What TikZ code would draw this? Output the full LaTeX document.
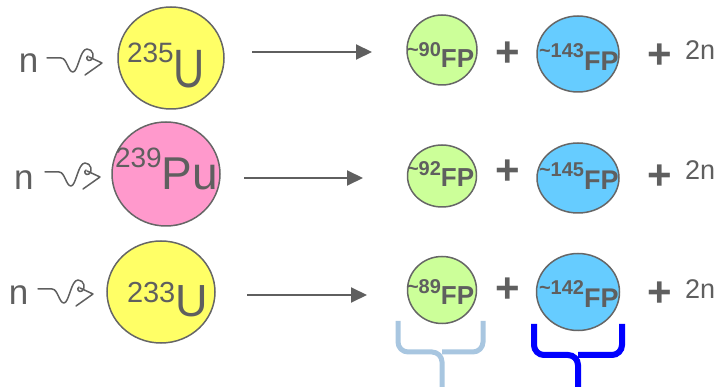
\documentclass[tikz,border=0pt]{standalone}
\usepackage{fontspec}
\setmainfont{Liberation Sans}
\usetikzlibrary{shapes.geometric,arrows.meta}

\definecolor{ink}{HTML}{5F5F5F}
\definecolor{edge}{HTML}{666666}
\definecolor{uyellow}{HTML}{FFFF66}
\definecolor{pupink}{HTML}{FF99CC}
\definecolor{fpgreen}{HTML}{CCFF99}
\definecolor{fpblue}{HTML}{66CCFF}
\definecolor{bracelight}{HTML}{A8C6E0}
\definecolor{bracedark}{HTML}{0000FF}

\newcommand\fsz[1]{\fontsize{#1}{#1}\selectfont}
% mass number, symbol, mass-number size, symbol size, raise of the mass number
\newcommand\nuclide[5]{\raisebox{#5pt}{\fsz{#3}#1}\fsz{#4}#2}
% fission fragment label: mass number, its size, FP size, raise
\newcommand\fragment[4]{\bfseries\raisebox{#4pt}{\fsz{#2}\textasciitilde#1}\fsz{#3}FP}

\tikzset{
  nucleus/.style={ellipse, draw=edge, line width=1.5pt, inner sep=0pt},
  label/.style={inner sep=0pt, outer sep=0pt, text=ink, anchor=base west},
  plus/.style={inner sep=0pt, text=ink, font=\fsz{42}\bfseries},
  reaction/.style={draw=ink, line width=2pt, -{Triangle[length=16pt,width=15pt]}},
  neutronpath/.style={draw=ink, line width=1.5pt, line cap=round, line join=round},
  bracket/.style={line width=#1, rounded corners=10pt, line cap=butt},
}

% wavy incoming neutron, drawn from its left end
\newcommand\neutronwave[1]{%
  \draw[neutronpath, shift={#1}]
    (0,0) -- (14,0) .. controls (20,0) and (21,14) .. (26,14)
    .. controls (31,14) and (33,-9) .. (40,-9)
    .. controls (46,-9) and (48,-1) .. (44,2)
    .. controls (41,4) and (38,0) .. (41,-2);
  \draw[neutronpath, shift={#1}] (42,-1) -- (55,5) -- (38,17);
}

\begin{document}
\begin{tikzpicture}[x=1pt, y=-1pt]
\useasboundingbox (0,0) rectangle (726,387);

% ---- row 1: U-235 ----
\node[label, font=\fsz{35}] (n1) at (19,73) {n};
\neutronwave{(47,58)}
\node[nucleus, fill=uyellow, minimum width=106, minimum height=102] (u235) at (171,58) {};
\node[label] (u235t) at (127,88) {\raisebox{25pt}{\fsz{28}235}\scalebox{0.8}[1]{\fsz{54}U}};
\coordinate (a1s) at (252,52);
\coordinate (a1e) at (372,52);
\draw[reaction] (a1s) -- (a1e);
\node[nucleus, fill=fpgreen, minimum width=70, minimum height=70] (g1) at (442,50) {};
\node[label] (g1t) at (407,68) {\fragment{90}{20}{26}{11}};
\node[plus] (p1a) at (508,54) {+};
\node[nucleus, fill=fpblue, minimum width=82, minimum height=76] (b1) at (578,54) {};
\node[label] (b1t) at (539,71) {\fragment{143}{20}{27}{13}};
\node[plus] (p1b) at (660,56) {+};
\node[label, font=\fsz{27}] (nn1) at (685,60) {2n};

% ---- row 2: Pu-239 ----
\node[label, font=\fsz{35}] (n2) at (14,190) {n};
\neutronwave{(45,172)}
\node[nucleus, fill=pupink, minimum width=108, minimum height=104] (pu239) at (166,174) {};
\node[label] (pu239t) at (115,190) {\nuclide{239}{Pu}{28}{46}{22}};
\coordinate (a2s) at (244,178);
\coordinate (a2e) at (363,178);
\draw[reaction] (a2s) -- (a2e);
\node[nucleus, fill=fpgreen, minimum width=69, minimum height=62] (g2) at (442,176) {};
\node[label] (g2t) at (407,187) {\fragment{92}{20}{26}{11}};
\node[plus] (p2a) at (508,172) {+};
\node[nucleus, fill=fpblue, minimum width=82, minimum height=70] (b2) at (578,178) {};
\node[label] (b2t) at (539,190) {\fragment{145}{20}{27}{13}};
\node[plus] (p2b) at (660,177) {+};
\node[label, font=\fsz{27}] (nn2) at (685,180) {2n};

% ---- row 3: U-233 ----
\node[label, font=\fsz{35}] (n3) at (9,305) {n};
\neutronwave{(38,289)}
\node[nucleus, fill=uyellow, minimum width=108, minimum height=102] (u233) at (161,292) {};
\node[label] (u233t) at (127,317) {\nuclide{233}{U}{29}{45}{14}};
\coordinate (a3s) at (247,295);
\coordinate (a3e) at (367,295);
\draw[reaction] (a3s) -- (a3e);
\node[nucleus, fill=fpgreen, minimum width=69, minimum height=67] (g3) at (442,290) {};
\node[label] (g3t) at (407,305) {\fragment{89}{20}{26}{11}};
\node[plus] (p3a) at (508,290) {+};
\node[nucleus, fill=fpblue, minimum width=83, minimum height=77] (b3) at (578,292) {};
\node[label] (b3t) at (539,308) {\fragment{142}{20}{27}{13}};
\node[plus] (p3b) at (660,294) {+};
\node[label, font=\fsz{27}] (nn3) at (685,299) {2n};

% ---- braces under the fragments ----
\draw[bracket=5pt, draw=bracelight]
  (398,321) -- (398,352) -- (442,352) -- (442,390)
  (483,321) -- (483,352) -- (442,352);
\draw[bracket=6pt, draw=bracedark]
  (534,324) -- (534,355) -- (578,355) -- (578,390)
  (622,324) -- (622,355) -- (578,355);
\end{tikzpicture}
\end{document}
